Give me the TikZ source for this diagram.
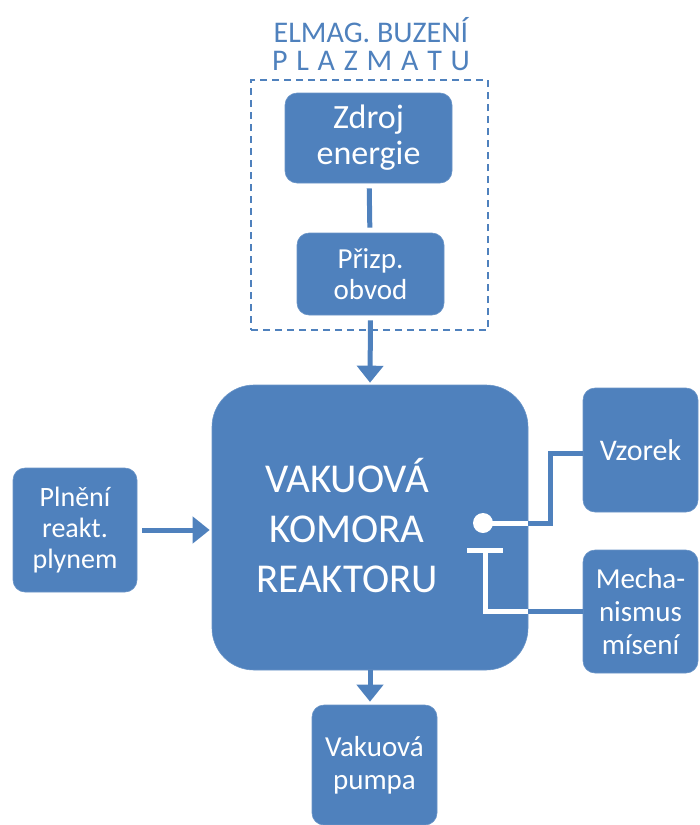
\documentclass[tikz,border=0pt]{standalone}
\usepackage{fontspec}
\setmainfont{Carlito}
\usetikzlibrary{arrows.meta}
\definecolor{boxblue}{HTML}{4F81BD}
\begin{document}
\begin{tikzpicture}[x=1pt,y=-1pt,
  blk/.style={fill=boxblue, draw=boxblue!85!white, line width=0.6pt, rounded corners=12pt, text=white, align=center, inner sep=0pt},
  sfont/.style={font=\fontsize{28}{31}\selectfont},
  conn/.style={draw=boxblue, line width=5pt},
  wconn/.style={draw=white, line width=5pt},
  arr/.style={conn, -{Triangle[width=26pt,length=17pt]}},
  ttl/.style={text=boxblue, inner sep=0pt, font=\fontsize{30}{30}\selectfont}]
\useasboundingbox (0,0) rectangle (700,825);
% title
\node[ttl, anchor=base] (t1) at (371,42) {ELMAG. BUZENÍ};
\node[ttl, anchor=base] (t2) at (371,70) {\makebox[198pt][s]{P\hfill L\hfill A\hfill Z\hfill M\hfill A\hfill T\hfill U}};
% dashed frame
\node[draw=boxblue, dashed, dash pattern=on 7pt off 5pt, line width=1.6pt, minimum width=237pt, minimum height=250pt, inner sep=0pt] (frame) at (369.5,205) {};
% boxes
\node[blk, minimum width=167pt, minimum height=90pt, font=\fontsize{34}{36}\selectfont] (zdroj) at (368.5,138) {Zdroj\\energie};
\node[blk, minimum width=147pt, minimum height=82pt, font=\fontsize{29}{31}\selectfont] (prizp) at (370.5,274) {Přizp.\\obvod};
\node[blk, rounded corners=42pt, minimum width=316pt, minimum height=285pt] (main) at (370,527.5) {};
\node[text=white, align=center, inner sep=0pt, font=\fontsize{41}{50}\selectfont] (mainlbl) at (347,526) {VAKUOVÁ\\KOMORA\\REAKTORU};
\node[blk, sfont, minimum width=124pt, minimum height=124pt] (plneni) at (75,530) {Plnění\\reakt.\\plynem};
\node[blk, font=\fontsize{30}{31}\selectfont, minimum width=115pt, minimum height=124pt] (vzorek) at (640.5,450) {Vzorek};
\node[blk, font=\fontsize{29}{33}\selectfont, minimum width=115pt, minimum height=123pt] (mech) at (640.5,611.5) {Mecha-\\nismus\\mísení};
\node[blk, font=\fontsize{29}{33}\selectfont, minimum width=125pt, minimum height=120pt] (pumpa) at (374.5,765) {Vakuová\\pumpa};
% connectors
\draw[conn, shorten <=5pt, shorten >=5pt] (zdroj) -- (prizp);
\draw[arr, shorten <=5pt, shorten >=2pt] (prizp.south) -- (main.north);
\draw[arr, shorten <=5pt, shorten >=2pt] (plneni.east) -- (plneni.east -| main.west);
\draw[arr, shorten >=3pt] (main.south) -- (main.south |- pumpa.north);
% sample holder
\node[circle, fill=white, inner sep=0pt, minimum size=20pt] (pin) at (483,523) {};
\draw[conn] ([yshift=-3pt]vzorek.west) -| (550,523) -- (main.east |- pin.center);
\draw[wconn] (main.east |- pin.center) -- (pin.center);
% mixing mechanism
\node[fill=white, inner sep=0pt, minimum width=36pt, minimum height=5pt] (tbar) at (485,550) {};
\draw[conn] (mech.west) -- (mech.west -| main.east);
\draw[wconn] (mech.west -| main.east) -| (tbar.south);
\end{tikzpicture}
\end{document}
